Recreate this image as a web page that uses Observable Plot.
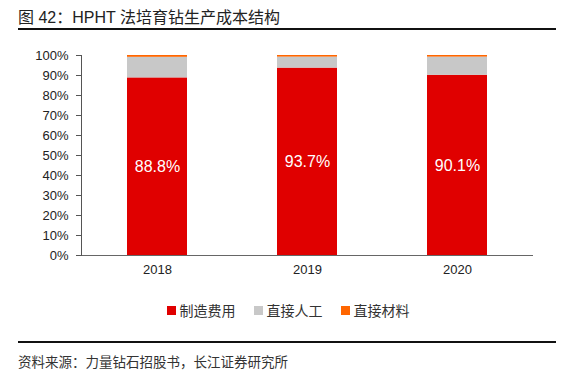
<!DOCTYPE html>
<html><head><meta charset="utf-8">
<script src="https://cdn.jsdelivr.net/npm/d3@7"></script>
<script src="https://cdn.jsdelivr.net/npm/@observablehq/plot@0.6"></script>
<style>
body{margin:0;background:#fff;font-family:"Liberation Sans","Noto Sans CJK SC",sans-serif;}
#wrap{position:relative;width:566px;height:379px;overflow:hidden;}
.abs{position:absolute;}
#title{left:18px;top:4px;font-size:16px;color:#222;white-space:pre;}
#rule1{left:18px;top:28px;width:538px;height:2px;background:#111;}
#rule2{left:18px;top:341px;width:538px;height:2px;background:#111;}
#cap{left:18px;top:351px;font-size:13.5px;color:#333;}
#legend{left:5px;top:300px;width:566px;display:flex;justify-content:center;font-size:14px;color:#333;}
#legend span{display:inline-flex;align-items:center;margin:0 9px;}
#legend i{display:inline-block;width:9px;height:9px;margin-right:4px;}
#chart{left:0;top:0;}
</style></head>
<body><div id="wrap">
<div id="title" class="abs">图 42：HPHT 法培育钻生产成本结构</div>
<div id="rule1" class="abs"></div>
<div id="chart" class="abs"></div>
<div id="legend" class="abs"></div>
<div id="rule2" class="abs"></div>
<div id="cap" class="abs">资料来源：力量钻石招股书，长江证券研究所</div>
</div>
<script>
const years = ["2018", "2019", "2020"];
const series = ["制造费用", "直接人工", "直接材料"];
const manufacturing = [88.8, 93.7, 90.1];
const labor = [10.3, 5.5, 9.1];
const material = [0.9, 0.8, 0.8];
const colors = ["#E00000", "#C8C8C8", "#FF6600"];
const yTicks = [0,10,20,30,40,50,60,70,80,90,100];

const data = [];
years.forEach((y, i) => {
  data.push({year: y, s: series[0], v: manufacturing[i]});
  data.push({year: y, s: series[1], v: labor[i]});
  data.push({year: y, s: series[2], v: material[i]});
});
const labels = years.map((y, i) => ({year: y, v: manufacturing[i]}));

const chart = Plot.plot({
  width: 566, height: 290,
  marginTop: 55, marginBottom: 35, marginLeft: 81, marginRight: 33,
  style: {fontFamily: "Liberation Sans, Arial, sans-serif", fontSize: "13px", color: "#222"},
  x: {domain: years, paddingInner: 0.6, paddingOuter: 0.3, label: null},
  y: {domain: [0, 100], label: null},
  color: {domain: series, range: colors},
  marks: [
    Plot.barY(data, {x: "year", y: "v", fill: "s", order: series}),
    Plot.text(labels, {x: "year", y: d => d.v / 2, text: d => d.v.toFixed(1) + "%", fill: "white", fontSize: 16}),
    Plot.axisY({ticks: yTicks, tickFormat: d => d + "%", tickSize: 5, tickPadding: 8, stroke: "#555", fontSize: 13}),
    Plot.axisX({tickSize: 0, tickPadding: 9, fontSize: 13}),
    Plot.ruleY([0], {stroke: "#666"}),
    Plot.frame({anchor: "left", stroke: "#555"})
  ]
});
document.getElementById("chart").appendChild(chart);

const lg = document.getElementById("legend");
series.forEach((s, i) => {
  const sp = document.createElement("span");
  sp.innerHTML = `<i style="background:${colors[i]}"></i>${s}`;
  lg.appendChild(sp);
});
</script>
</body></html>
